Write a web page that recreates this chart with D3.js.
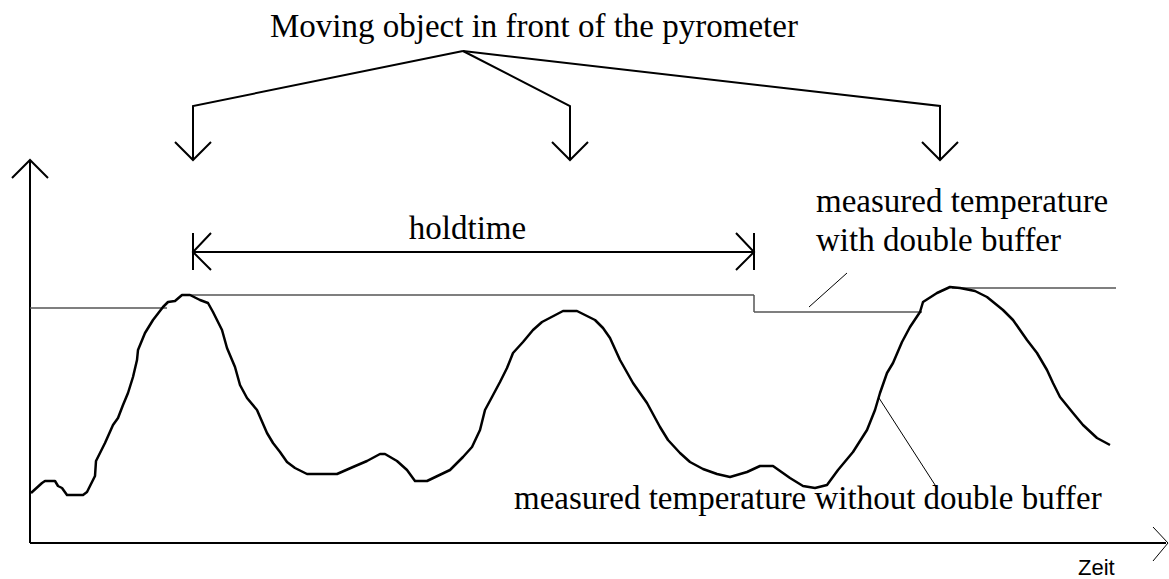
<!DOCTYPE html>
<html>
<head>
<meta charset="utf-8">
<script src="https://cdn.jsdelivr.net/npm/d3@7"></script>
<style>
  html, body { margin: 0; padding: 0; background: #fff; }
  svg { display: block; }
  .serif { font-family: "Liberation Serif", "Times New Roman", serif; font-size: 33px; fill: #000; }
  .sans { font-family: "Liberation Sans", Arial, sans-serif; font-size: 22px; fill: #000; }
</style>
</head>
<body>
<svg id="chart" width="1169" height="579"></svg>
<script>
// ---- data (time units, temperature units) ----
const time = [1,12,15,25,28,32,37,53,57,65,66,75,83,88,93,98,103,107,108,115,
  123,133,138,145,152,160,170,178,183,192,197,205,210,217,227,237,243,250,257,265,
  277,307,323,337,350,355,367,377,385,397,420,433,442,450,455,462,470,477,483,493,
  503,512,533,547,565,573,580,590,603,617,630,638,650,660,673,687,700,717,730,743,
  760,773,785,797,808,823,837,845,850,857,863,872,880,890,893,907,920,930,945,957,
  973,983,997,1007,1017,1023,1030,1043,1053,1067,1080];
const temperature = [50,60,62,62,57,55,48,48,51,67,82,100,118,125,138,150,166,183,193,210,
  223,236,241,242,248,248,243,240,231,213,195,176,158,145,133,110,100,91,81,75,
  69,69,76,82,89,89,82,73,62,62,73,86,96,113,133,146,161,175,190,201,
  213,221,232,232,223,215,205,183,160,140,116,103,90,81,74,69,66,71,77,77,
  65,57,55,58,73,91,113,133,150,170,180,201,216,231,241,250,256,255,252,246,
  233,223,203,190,173,160,146,130,118,105,98];

// double buffer hold segments
const holdStart = [0, 153, 724, 922];
const holdEnd   = [137, 724, 892, 1086];
const holdLevel = [235, 248, 231, 255];

// object passes (time of arrows) and holdtime span
const passTimes = [163, 540, 910];
const holdSpan = [163, 724];

const axisLabelX = "Zeit";
const titleText = "Moving object in front of the pyrometer";
const holdLabel = "holdtime";
const withLabel = ["measured temperature", "with double buffer"];
const withoutLabel = "measured temperature without double buffer";

// ---- scales ----
const svg = d3.select("#chart");
const x = d3.scaleLinear().domain([0, 1138]).range([30, 1168]);
const y = d3.scaleLinear().domain([0, 383]).range([543, 160]);

// ---- axes (arrows) ----
const g = svg.append("g");
g.append("line").attr("x1", x(0)).attr("x2", x(1136)).attr("y1", y(0)).attr("y2", y(0))
  .attr("stroke", "#000").attr("stroke-width", 2);
g.append("path").attr("d", `M${x(1123)},${y(16)} L${x(1138)},${y(0)} L${x(1123)},${y(-18)}`)
  .attr("fill", "none").attr("stroke", "#000").attr("stroke-width", 1);
g.append("line").attr("x1", x(0)).attr("x2", x(0)).attr("y1", y(0)).attr("y2", y(383))
  .attr("stroke", "#000").attr("stroke-width", 2);
g.append("path").attr("d", `M${x(-18)},${y(365)} L${x(0)},${y(383)} L${x(18)},${y(365)}`)
  .attr("fill", "none").attr("stroke", "#000").attr("stroke-width", 2);
g.append("text").attr("class", "sans").attr("x", 1078).attr("y", 575).text(axisLabelX);

// ---- double buffer line ----
const holdG = svg.append("g").attr("fill", "none").attr("stroke", "#555").attr("stroke-width", 1.5);
holdStart.forEach((s, i) => {
  holdG.append("line").attr("x1", x(s)).attr("x2", x(holdEnd[i]))
    .attr("y1", y(holdLevel[i])).attr("y2", y(holdLevel[i]));
});
holdG.append("line").attr("x1", x(holdEnd[1])).attr("x2", x(holdEnd[1]))
  .attr("y1", y(holdLevel[1])).attr("y2", y(holdLevel[2]));

// ---- measured curve ----
const pts = time.map((t, i) => [t, temperature[i]]);
const line = d3.line().x(d => x(d[0])).y(d => y(d[1]));
svg.append("path").datum(pts).attr("d", line)
  .attr("fill", "none").attr("stroke", "#000").attr("stroke-width", 2.5)
  .attr("stroke-linejoin", "round");

// ---- top annotation ----
const ann = svg.append("g").attr("fill", "none").attr("stroke", "#000").attr("stroke-width", 2);
const branch = [463, 51];
passTimes.forEach(t => {
  const px = x(t);
  ann.append("path").attr("d", `M${branch[0]},${branch[1]} L${px},106 L${px},160`);
  ann.append("path").attr("d", `M${px - 18},142 L${px},160 L${px + 18},142`);
});
svg.append("text").attr("class", "serif").attr("x", 270).attr("y", 37).text(titleText);

// ---- holdtime ----
const hx1 = x(holdSpan[0]), hx2 = x(holdSpan[1]), hy = 252;
ann.append("line").attr("x1", hx1).attr("x2", hx2).attr("y1", hy).attr("y2", hy);
ann.append("line").attr("x1", hx1).attr("x2", hx1).attr("y1", 233).attr("y2", 270);
ann.append("line").attr("x1", hx2).attr("x2", hx2).attr("y1", 233).attr("y2", 270);
ann.append("path").attr("d", `M${hx1 + 18},233 L${hx1},${hy} L${hx1 + 18},270`);
ann.append("path").attr("d", `M${hx2 - 18},233 L${hx2},${hy} L${hx2 - 18},270`);
svg.append("text").attr("class", "serif").attr("x", (hx1 + hx2) / 2 - 6).attr("y", 239)
  .attr("text-anchor", "middle").text(holdLabel);

// ---- labels with pointers ----
svg.append("text").attr("class", "serif").attr("x", 816).attr("y", 212).text(withLabel[0]);
svg.append("text").attr("class", "serif").attr("x", 816).attr("y", 251).text(withLabel[1]);
svg.append("line").attr("x1", 847).attr("y1", 273).attr("x2", 809).attr("y2", 307)
  .attr("stroke", "#000").attr("stroke-width", 1);

svg.append("text").attr("class", "serif").attr("x", 514).attr("y", 509).text(withoutLabel);
svg.append("line").attr("x1", 879).attr("y1", 398).attr("x2", 937).attr("y2", 488)
  .attr("stroke", "#000").attr("stroke-width", 1);
</script>
</body>
</html>
